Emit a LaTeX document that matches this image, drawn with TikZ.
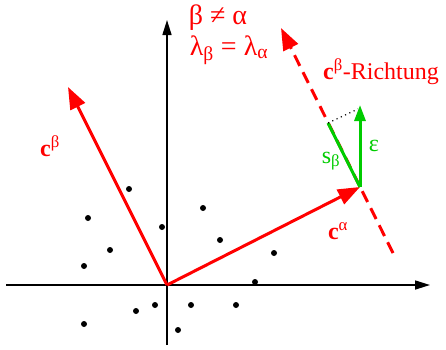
\documentclass[tikz,border=0pt]{standalone}
\usepackage{fontspec}
\setmainfont{Liberation Serif}
\usetikzlibrary{arrows.meta}
\definecolor{vgreen}{RGB}{0,204,0}
\begin{document}
\begin{tikzpicture}[x=1pt,y=-1pt,
  axis/.style={line width=1.6pt, -{Triangle[length=15pt,width=9pt]}},
  redvec/.style={red, line width=3pt, -{Triangle[length=22pt,width=16pt]}},
  reddash/.style={red, line width=3pt, dash pattern=on 12pt off 7pt, -{Triangle[length=22pt,width=16pt]}},
  grn/.style={vgreen, line width=3pt},
  grnarrow/.style={vgreen, line width=3pt, -{Triangle[length=16pt,width=11pt]}},
  pt/.style={circle, fill=black, inner sep=0pt, minimum size=6pt},
  redlbl/.style={red, font=\fontsize{24}{26}\selectfont, inner sep=0pt},
  biglbl/.style={red, font=\fontsize{28}{30}\selectfont, inner sep=0pt},
  grnlbl/.style={vgreen, font=\fontsize{24}{26}\selectfont, inner sep=0pt}]
\useasboundingbox (0,0) rectangle (446,349);
% coordinates
\coordinate (O) at (167,285);
\coordinate (xL) at (6,285);
\coordinate (xR) at (430,285);
\coordinate (yB) at (167,345);
\coordinate (yT) at (167,20);
\coordinate (cb) at (68,87);
\coordinate (ca) at (360,187);
\coordinate (dLow) at (393,253);
\coordinate (dTop) at (281,28);
\coordinate (sb) at (328,123);
\coordinate (eps) at (360,105);
\coordinate (epsd) at (358,109);
% axes
\draw[axis] (xL) -- (xR);
\draw[axis] (yB) -- (yT);
% dots
\foreach \i/\p in {1/{(129,189)},2/{(88,218)},3/{(162,227)},4/{(110,250)},5/{(84,266)},
  6/{(203,208)},7/{(220,240)},8/{(274,253)},9/{(255,282)},10/{(136,311)},
  11/{(155,305)},12/{(191,305)},13/{(236,305)},14/{(84,324)},15/{(178,330)}}
  \node[pt] (p\i) at \p {};
% dashed direction
\draw[reddash] (dLow) -- (dTop);
% vectors
\draw[redvec] (O) -- (cb);
\draw[redvec] (O) -- (ca);
% green
\draw[grn] (ca) -- (sb);
\draw[grnarrow] (ca) -- (eps);
\draw[black, line width=1.2pt, dash pattern=on 1.2pt off 3.5pt] (sb) -- (epsd);
% labels
\node[biglbl] (l1) at (218,18) {β ≠ α};
\node[biglbl] (l2) at (229,50) {λ\textsubscript{β} = λ\textsubscript{α}};
\node[redlbl] (l3) at (381,72) {\textbf{c}\textsuperscript{β}-Richtung};
\node[redlbl] (l4) at (50,146) {\textbf{c}\textsuperscript{β}};
\node[redlbl] (l5) at (338,231) {\textbf{c}\textsuperscript{α}};
\node[grnlbl] (l6) at (331,161) {s\textsubscript{β}};
\node[grnlbl] (l7) at (374,146) {ε};
\end{tikzpicture}
\end{document}
